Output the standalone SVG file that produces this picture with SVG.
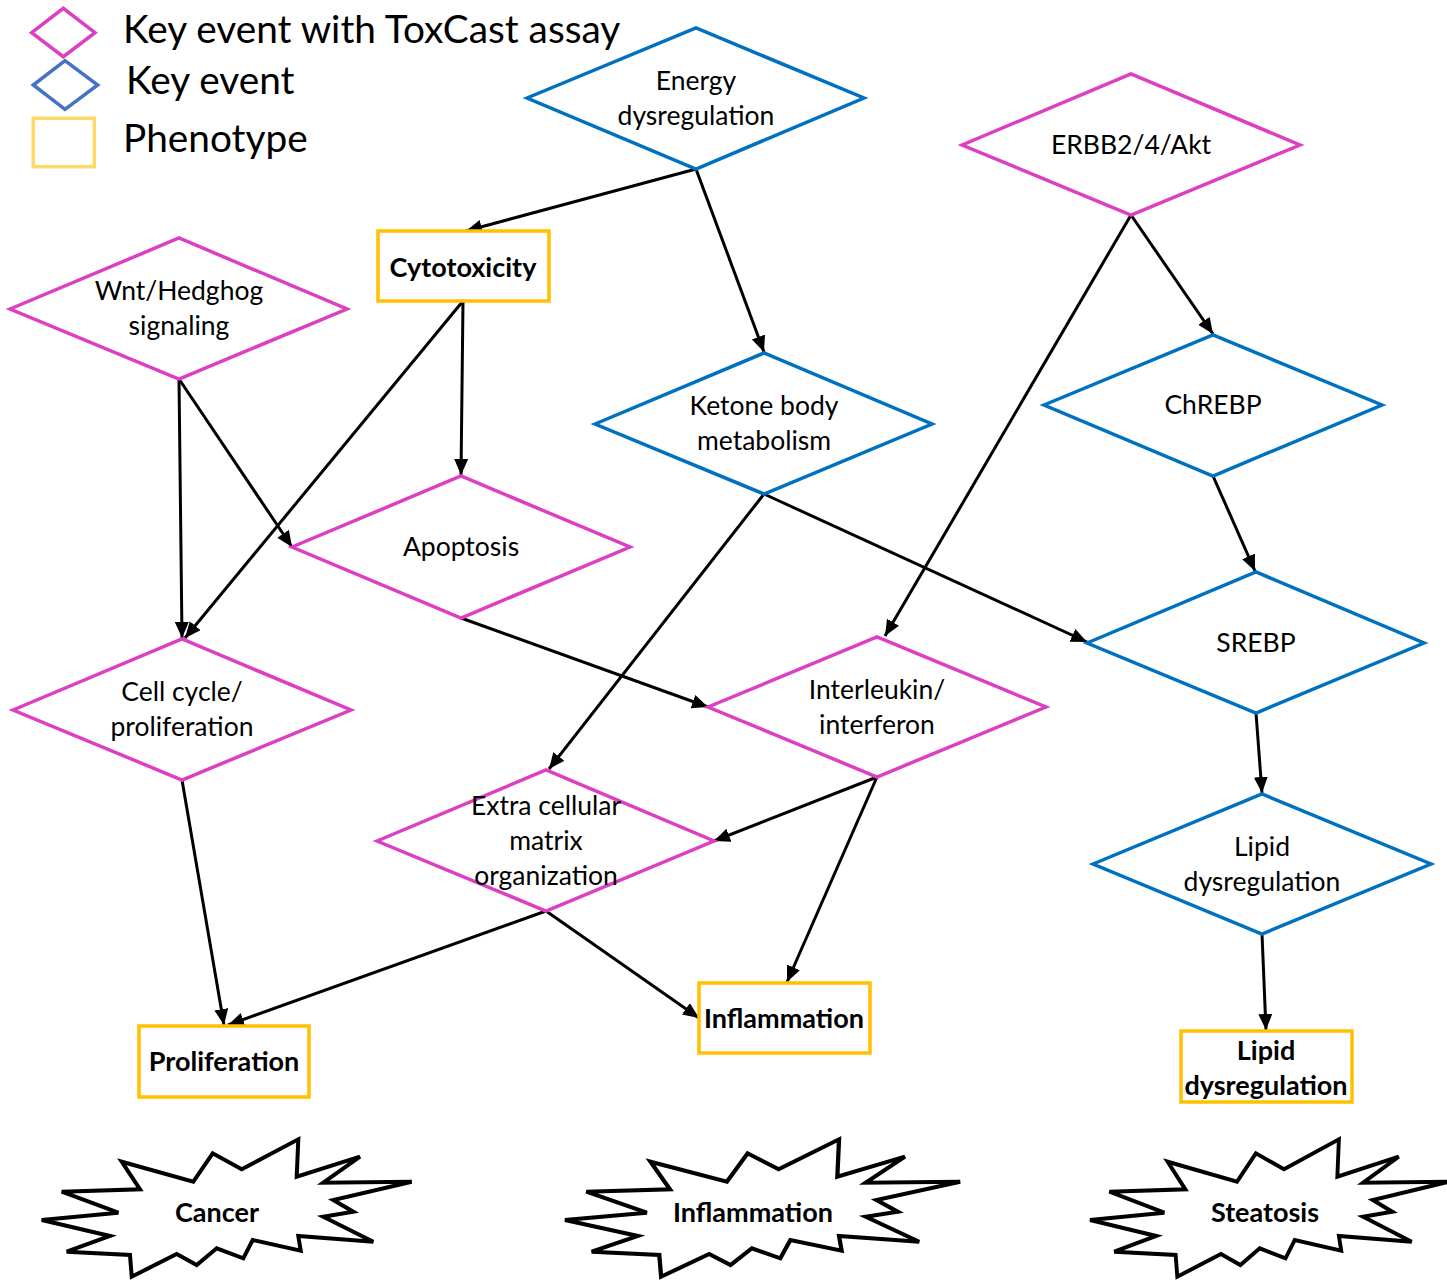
<svg xmlns="http://www.w3.org/2000/svg" width="1447" height="1282" viewBox="0 0 1447 1282">
<style>
.mg{fill:#fff;stroke:#DD3FC3;stroke-width:3.5}
.bl{fill:#fff;stroke:#0070C0;stroke-width:3.5}
.yl{fill:#fff;stroke:#FFC000;stroke-width:3.5}
.t{font-family:Lato,"Open Sans","Liberation Sans",sans-serif;font-size:26.5px;fill:#000;text-anchor:middle}
.b{font-family:Lato,"Open Sans","Liberation Sans",sans-serif;font-size:27px;font-weight:bold;fill:#000;text-anchor:middle}
.lg{font-family:Lato,"Open Sans","Liberation Sans",sans-serif;font-size:38.8px;fill:#000}
.star{fill:#fff;stroke:#000;stroke-width:4;stroke-linejoin:miter}
.e{fill:none;stroke:#000;stroke-width:3;marker-end:url(#ah)}
</style>
<defs>
<marker id="ah" markerUnits="userSpaceOnUse" markerWidth="18" markerHeight="16" refX="16" refY="7" orient="auto">
<path d="M0,0 L16,7 L0,14 Z" fill="#000"/>
</marker>
<path id="burst" d="M0,1220 L76.6,1212.7 L20,1191.7 L98.3,1189.3 L80,1161.7 L151.6,1181.7 L171,1153.3 L200,1169.3 L256.6,1139.3 L255,1176.7 L318.3,1156.7 L281.6,1182.7 L370,1181.7 L291.6,1200 L311.6,1211.7 L281.6,1216.7 L331.6,1241.7 L256.6,1236 L259,1250.7 L211,1240 L201.6,1258.3 L175,1248.3 L155,1265 L135,1254 L90,1276.7 L88.3,1255 L25,1251.7 L68.3,1236 Z"/>
</defs>
<g id="legend">
<polygon points="31.7,32.7 63.3,8.3 95,32.7 63.3,56.7" fill="#fff" stroke="#DD3FC3" stroke-width="3.5"/>
<polygon points="33.3,85 65,60.7 97.7,85 65,109.3" fill="#fff" stroke="#4472C4" stroke-width="3.5"/>
<rect x="33.3" y="118.3" width="61" height="48.4" fill="#fff" stroke="#FFD966" stroke-width="3.5"/>
<text class="lg" x="123" y="43">Key event with ToxCast assay</text>
<text class="lg" x="126" y="94">Key event</text>
<text class="lg" x="123" y="152">Phenotype</text>
</g>
<g id="connectors">
<line class="e" x1="696" y1="169" x2="466" y2="231"/>
<line class="e" x1="696" y1="169" x2="764" y2="352"/>
<line class="e" x1="1131" y1="215" x2="1213" y2="334"/>
<line class="e" x1="1131" y1="215" x2="885" y2="636"/>
<line class="e" x1="463" y1="301" x2="461" y2="475"/>
<line class="e" x1="463" y1="301" x2="185" y2="638"/>
<line class="e" x1="179" y1="379" x2="182" y2="638"/>
<line class="e" x1="179" y1="379" x2="292" y2="547"/>
<line class="e" x1="764" y1="494" x2="1087" y2="642"/>
<line class="e" x1="764" y1="494" x2="549" y2="769"/>
<line class="e" x1="1213" y1="476" x2="1255" y2="571"/>
<line class="e" x1="461" y1="618" x2="708" y2="707"/>
<line class="e" x1="1256" y1="713" x2="1262" y2="793"/>
<line class="e" x1="877" y1="777" x2="714" y2="841"/>
<line class="e" x1="877" y1="777" x2="787" y2="982"/>
<line class="e" x1="182" y1="780" x2="224" y2="1025"/>
<line class="e" x1="546" y1="911" x2="228" y2="1025"/>
<line class="e" x1="546" y1="911" x2="699" y2="1018"/>
<line class="e" x1="1262" y1="934" x2="1266" y2="1030"/>
</g>
<g id="energy"><polygon class="bl" points="527,98 696,28 864,98 696,169"/><text class="t" x="696" y="90">Energy</text><text class="t" x="696" y="125">dysregulation</text></g>
<g id="erbb"><polygon class="mg" points="962,145 1131,74 1300,145 1131,215"/><text class="t" x="1131" y="154">ERBB2/4/Akt</text></g>
<g id="wnt"><polygon class="mg" points="10,309 179,238 347,309 179,379"/><text class="t" x="179" y="300">Wnt/Hedghog</text><text class="t" x="179" y="335">signaling</text></g>
<g id="cytotoxicity"><rect class="yl" x="378" y="231" width="171" height="70"/><text class="b" x="463" y="277">Cytotoxicity</text></g>
<g id="ketone"><polygon class="bl" points="595,424 764,353 932,424 764,494"/><text class="t" x="764" y="415">Ketone body</text><text class="t" x="764" y="450">metabolism</text></g>
<g id="chrebp"><polygon class="bl" points="1044,405 1213,335 1382,405 1213,476"/><text class="t" x="1213" y="414">ChREBP</text></g>
<g id="apoptosis"><polygon class="mg" points="292,547 461,476 630,547 461,618"/><text class="t" x="461" y="556">Apoptosis</text></g>
<g id="srebp"><polygon class="bl" points="1087,643 1256,572 1424,643 1256,713"/><text class="t" x="1256" y="652">SREBP</text></g>
<g id="cellcycle"><polygon class="mg" points="13,710 182,639 351,710 182,780"/><text class="t" x="182" y="701">Cell cycle/</text><text class="t" x="182" y="736">proliferation</text></g>
<g id="interleukin"><polygon class="mg" points="708,707 877,637 1046,707 877,777"/><text class="t" x="877" y="699">Interleukin/</text><text class="t" x="877" y="734">interferon</text></g>
<g id="ecm"><polygon class="mg" points="377,841 546,770 714,841 546,911"/><text class="t" x="546" y="815">Extra cellular</text><text class="t" x="546" y="850">matrix</text><text class="t" x="546" y="885">organization</text></g>
<g id="lipid-ke"><polygon class="bl" points="1093,864 1262,794 1431,864 1262,934"/><text class="t" x="1262" y="856">Lipid</text><text class="t" x="1262" y="891">dysregulation</text></g>
<g id="proliferation"><rect class="yl" x="139" y="1026" width="170" height="71"/><text class="b" x="224" y="1071">Proliferation</text></g>
<g id="inflammation-ph"><rect class="yl" x="699" y="983" width="171" height="70"/><text class="b" x="784" y="1028">Inflammation</text></g>
<g id="lipid-ph"><rect class="yl" x="1181" y="1031" width="171" height="71"/><text class="b" x="1266" y="1060">Lipid</text><text class="b" x="1266" y="1095">dysregulation</text></g>
<g id="cancer"><use href="#burst" class="star" transform="translate(41.7,0)"/><text class="b" x="217" y="1222">Cancer</text></g>
<g id="inflammation"><use href="#burst" class="star" transform="translate(565,0) scale(1.068,1)"/><text class="b" x="753" y="1222">Inflammation</text></g>
<g id="steatosis"><use href="#burst" class="star" transform="translate(1090,0) scale(0.97,1)"/><text class="b" x="1265" y="1222">Steatosis</text></g>
</svg>
